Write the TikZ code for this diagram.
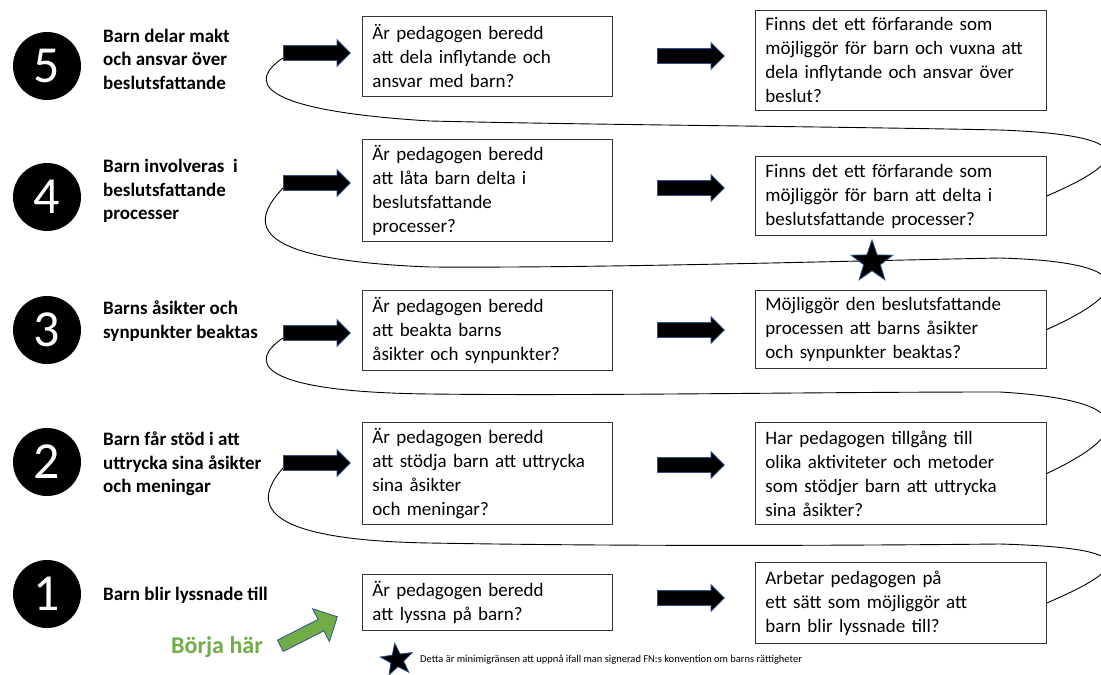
\documentclass[tikz,border=0pt]{standalone}
\usepackage{fontspec}
\setmainfont{Carlito}
\usetikzlibrary{shapes.arrows,shapes.geometric}
\definecolor{outlineblue}{HTML}{2F528F}
\definecolor{startgreen}{HTML}{70AD47}

\begin{document}
\begin{tikzpicture}[x=1pt,y=-1pt,
  num/.style={circle,fill=black,minimum size=68pt,inner sep=0pt,text=white,font=\fontsize{52}{52}\selectfont},
  lbl/.style={anchor=west,align=left,inner sep=0pt,font=\fontsize{19}{23.5}\selectfont\bfseries},
  qbox/.style={draw=black!80,line width=0.9pt,anchor=north west,text width=230pt,inner xsep=10pt,inner ysep=0pt,align=left,font=\fontsize{19}{24}\selectfont},
  pbox/.style={qbox,text width=271pt},
  blk/.style={single arrow,fill=black,draw=outlineblue,line width=0.8pt,minimum height=67pt,single arrow head extend=6pt,inner xsep=0pt,inner ysep=7pt,anchor=tail},
  greenarr/.style={blk,fill=startgreen,minimum height=64pt,inner ysep=6pt,single arrow head extend=12pt},
  starshape/.style={star,star points=5,star point ratio=2.5,fill=black,draw=outlineblue,line width=0.8pt,inner sep=0pt},
  curve/.style={line width=0.9pt}]
\useasboundingbox (0,0) rectangle (1101,675);
\clip (0,0) rectangle (1101,675);

\node[num] (c5) at (47,66) {5};
\node[num] (c4) at (47,197) {4};
\node[num] (c3) at (47,330) {3};
\node[num] (c2) at (47,462) {2};
\node[num] (c1) at (47,594) {1};

\node[lbl] (l5) at (103,59) {Barn delar makt\\och ansvar över\\beslutsfattande};
\node[lbl] (l4) at (103,191) {Barn involveras\ \ i\\beslutsfattande\\processer};
\node[lbl] (l3) at (103,321) {Barns åsikter och\\synpunkter beaktas};
\node[lbl] (l2) at (103,464) {Barn får stöd i att\\uttrycka sina åsikter\\och meningar};
\node[lbl] (l1) at (103,595) {Barn blir lyssnade till};

\node[qbox,minimum height=80pt] (q5) at (362,16) {Är pedagogen beredd\\att dela inflytande och\\ansvar med barn?};
\node[qbox,minimum height=102pt] (q4) at (362,139) {Är pedagogen beredd\\att låta barn delta i\\beslutsfattande\\processer?};
\node[qbox,minimum height=80pt] (q3) at (362,290) {Är pedagogen beredd\\att beakta barns\\åsikter och synpunkter?};
\node[qbox,minimum height=102pt] (q2) at (362,422) {Är pedagogen beredd\\att stödja barn att uttrycka\\sina åsikter\\och meningar?};
\node[qbox,minimum height=56pt] (q1) at (362,574) {Är pedagogen beredd\\att lyssna på barn?};

\node[pbox,minimum height=100pt] (p5) at (755,10) {Finns det ett förfarande som\\möjliggör för barn och vuxna att\\dela inflytande och ansvar över\\beslut?};
\node[pbox,minimum height=79pt] (p4) at (755,156) {Finns det ett förfarande som\\möjliggör för barn att delta i\\beslutsfattande processer?};
\node[pbox,minimum height=78pt] (p3) at (755,290) {Möjliggör den beslutsfattande\\processen att barns åsikter\\och synpunkter beaktas?};
\node[pbox,minimum height=102pt] (p2) at (755,422) {Har pedagogen tillgång till\\olika aktiviteter och metoder\\som stödjer barn att uttrycka\\sina åsikter?};
\node[pbox,minimum height=81pt] (p1) at (755,562) {Arbetar pedagogen på\\ett sätt som möjliggör att\\barn blir lyssnade till?};

\node[blk] (a5) at (283,53) {};
\node[blk] (a4) at (283,183) {};
\node[blk] (a3) at (283,333) {};
\node[blk] (a2) at (283,463) {};
\node[greenarr,rotate=27] (a1) at (280,646) {};
\node[font=\fontsize{24}{24}\selectfont\bfseries,text=startgreen] (go) at (217,647) {Börja här};

\node[blk] (b5) at (657,56) {};
\node[blk] (b4) at (657,188) {};
\node[blk] (b3) at (657,330) {};
\node[blk] (b2) at (657,465) {};
\node[blk] (b1) at (657,598) {};

\draw[curve] (p4.east) .. controls (1135,158) and (1135,135) .. (1000,130) .. controls (800,126) and (600,125) .. (430,121) .. controls (250,110) and (250,80) .. ([yshift=-5pt]a5.tail);
\draw[curve] (p3.east) .. controls (1135,290) and (1135,262) .. (1000,258) .. controls (800,262) and (600,268) .. (430,267) .. controls (250,260) and (248,225) .. ([yshift=-5pt]a4.tail);
\draw[curve] (p2.east) .. controls (1135,432) and (1135,400) .. (1000,392) .. controls (800,392) and (600,396) .. (430,394) .. controls (250,392) and (250,360) .. ([yshift=-5pt]a3.tail);
\draw[curve] (p1.east) .. controls (1135,565) and (1135,548) .. (1000,544) .. controls (800,546) and (600,546) .. (430,543) .. controls (250,540) and (255,500) .. ([yshift=-5pt]a2.tail);

\node[starshape,minimum size=44pt] (s) at (872,262) {};
\node[starshape,minimum size=34pt,rotate=8] (fs) at (397,660) {};
\node[anchor=west,inner sep=0pt,font=\fontsize{10.5}{12}\selectfont] (note) at (420,660) {Detta är minimigränsen att uppnå ifall man signerad FN:s konvention om barns rättigheter};
\end{tikzpicture}
\end{document}
